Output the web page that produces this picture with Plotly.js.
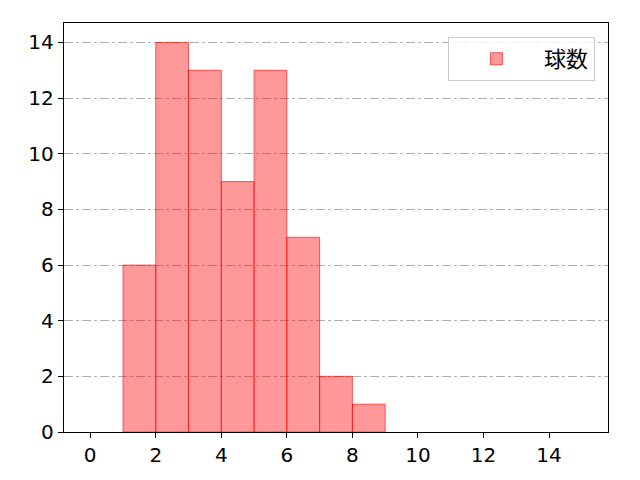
<!DOCTYPE html>
<html>
<head>
<meta charset="utf-8">
<script src="https://cdn.plot.ly/plotly-3.0.1.min.js"></script>
<style>html,body{margin:0;padding:0;background:#fff;}#chart{width:640px;height:480px;}</style>
</head>
<body>
<div id="chart"></div>
<script>
const binStarts = [1, 2, 3, 4, 5, 6, 7, 8];
const counts = [6, 14, 13, 9, 13, 7, 2, 1];
const binWidth = 1;
const seriesName = "球数";
const xTicks = [0, 2, 4, 6, 8, 10, 12, 14];
const yTicks = [0, 2, 4, 6, 8, 10, 12, 14];

const tickFont = {family: "DejaVu Sans, sans-serif", size: 20, color: "#000"};

const trace = {
  type: "bar",
  x: binStarts.map(s => s + binWidth / 2),
  y: counts,
  width: binStarts.map(() => binWidth),
  name: seriesName,
  showlegend: true,
  marker: {
    color: "rgba(255,0,0,0.4)",
    line: {color: "rgba(255,0,0,0.6)", width: 1}
  }
};

const layout = {
  width: 640, height: 480,
  margin: {l: 64, r: 32, t: 23, b: 48},
  paper_bgcolor: "#fff", plot_bgcolor: "#fff",
  font: {family: "Noto Sans CJK JP, DejaVu Sans, sans-serif", size: 20, color: "#000"},
  bargap: 0,
  xaxis: {
    range: [-0.8, 15.8], tickvals: xTicks, ticktext: xTicks.map(String), tickfont: tickFont,
    showgrid: false, zeroline: false, showline: true, mirror: true,
    linecolor: "#000", linewidth: 1.3, ticks: "outside", ticklen: 5, tickcolor: "#000"
  },
  yaxis: {
    range: [0, 14.7], tickvals: yTicks, ticktext: yTicks.map(String), tickfont: tickFont,
    showgrid: true, gridcolor: "#b0b0b0", gridwidth: 1, griddash: "dashdot",
    zeroline: false, showline: true, mirror: true,
    linecolor: "#000", linewidth: 1.3, ticks: "outside", ticklen: 5, tickcolor: "#000"
  },
  showlegend: true,
  legend: {
    x: 0.976, y: 0.966, xanchor: "right", yanchor: "top",
    bgcolor: "rgba(255,255,255,0.8)", bordercolor: "#cccccc", borderwidth: 1,
    font: {family: "Noto Sans CJK JP, sans-serif", size: 22, color: "#000"}, itemwidth: 85
  }
};

Plotly.newPlot("chart", [trace], layout, {displayModeBar: false, staticPlot: true});
</script>
</body>
</html>
